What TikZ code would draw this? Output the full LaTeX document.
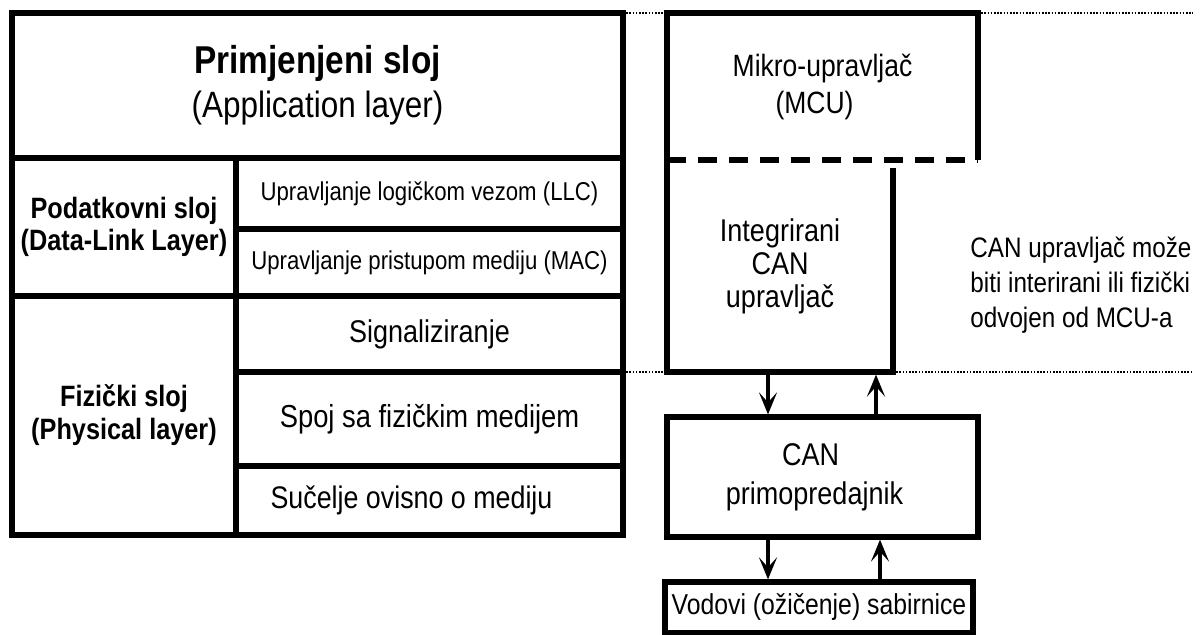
\documentclass[tikz,border=0pt]{standalone}
\usepackage{fontspec}
\setmainfont{Liberation Sans}[FakeStretch=0.86]
\usetikzlibrary{arrows.meta}

\newcommand{\LAYbw}{2.7pt}
\newcommand{\LAYfs}[2]{\fontsize{#1}{#2}\selectfont}

\begin{document}
\begin{tikzpicture}[x=0.5pt,y=-0.5pt,
	cell/.style 2 args={draw=black,line width=\LAYbw,outer sep=0pt,inner sep=0pt,
		minimum width=#1*0.5pt,minimum height=#2*0.5pt,align=center},
	area/.style 2 args={outer sep=0pt,inner sep=0pt,
		minimum width=#1*0.5pt,minimum height=#2*0.5pt,align=center},
	rim/.style={line width=\LAYbw},
	guide/.style={line width=0.8pt,dash pattern=on 0.8pt off 0.8pt},
	sig/.style={line width=1.6pt,-{Stealth[length=11pt,width=9pt,inset=5pt]},
		shorten >=1.3pt,shorten <=1.3pt}]

	\useasboundingbox (0,0) rectangle (1204,635);

	%The protocol stack on the left
	\node (app) at (317.5,85.5) [cell={611}{145},font=\LAYfs{19.4pt}{22pt}]
		{\bfseries Primjenjeni sloj\\\LAYfs{18.3pt}{22pt}(Application layer)};
	\node (dll) at (124,227) [cell={224}{138},font=\LAYfs{14.7pt}{16pt}\bfseries]
		{Podatkovni sloj\\(Data-Link Layer)};
	\node (llc) at (429.5,193.5) [cell={387}{71},font=\LAYfs{12.9pt}{15pt}] {Upravljanje logičkom vezom (LLC)};
	\node (mac) at (429.5,262.5) [cell={387}{67},font=\LAYfs{12.9pt}{15pt}] {Upravljanje pristupom mediju (MAC)};
	\node (phy) at (124,415.5) [cell={224}{239},font=\LAYfs{14.7pt}{16.5pt}\bfseries]
		{Fizički sloj\\(Physical layer)};
	\node (sig) at (429.5,334) [cell={387}{76},font=\LAYfs{15.7pt}{18pt}] {Signaliziranje};
	\node (pma) at (429.5,419) [cell={387}{94},font=\LAYfs{15.9pt}{18pt}] {Spoj sa fizičkim medijem};
	\node (mdi) at (429.5,500.5) [cell={387}{69},font=\LAYfs{15.6pt}{18pt}] {Sučelje ovisno o mediju\hspace*{18pt}};

	%The MCU with the integrated CAN controller
	\node (mcu) at (822.5,86.5) [area={311}{147},font=\LAYfs{15.4pt}{18.5pt}] {Mikro-upravljač\\(MCU)\hspace*{8pt}};
	\draw[rim] (mcu.south west) -- (mcu.north west) -- (mcu.north east) -- (mcu.south east);
	\draw[rim,dash pattern=on 9.5pt off 6pt] (mcu.south west) -- (mcu.south east);
	\node (integ) at (780,266) [area={226}{212},font=\LAYfs{15.7pt}{16.5pt}] {Integrirani\\CAN\\upravljač};
	\draw[rim] (integ.north west) -- (integ.south west) -- (integ.south east) -- ([yshift=-4pt]integ.north east);

	%The transceiver and the bus wires
	\node (xcvr) at (822.5,477) [cell={311}{120},font=\LAYfs{15.7pt}{19.5pt}] {CAN\hspace*{12pt}\\primopredajnik\hspace*{8pt}};
	\node (bus) at (819,607.5) [cell={308}{51},font=\LAYfs{14.4pt}{16pt}] {Vodovi (ožičenje) sabirnice};

	%The signals going up and down
	\coordinate (dn) at (768,0);
	\coordinate (up) at (876,0);
	\coordinate (upb) at (880,0);
	\draw[sig] (integ.south -| dn) -- (xcvr.north -| dn);
	\draw[sig] (xcvr.north -| up) -- (integ.south -| up);
	\draw[sig] (xcvr.south -| dn) -- (bus.north -| dn);
	\draw[sig] (bus.north -| upb) -- (xcvr.south -| upb);

	%The dotted guides and the note
	\coordinate (gtop) at (1193,13);
	\coordinate (gbot) at (1193,372);
	\draw[guide] (app.north east) -- (mcu.north west);
	\draw[guide] (mcu.north east) -- (gtop);
	\draw[guide] (sig.south east) -- (integ.south west);
	\draw[guide] (integ.south east) -- (gbot);
	\node (note) at (970,285) [anchor=west,align=left,inner sep=0pt,font=\LAYfs{14.1pt}{17.5pt}]
		{CAN upravljač može\\biti interirani ili fizički\\odvojen od MCU-a};

\end{tikzpicture}
\end{document}
